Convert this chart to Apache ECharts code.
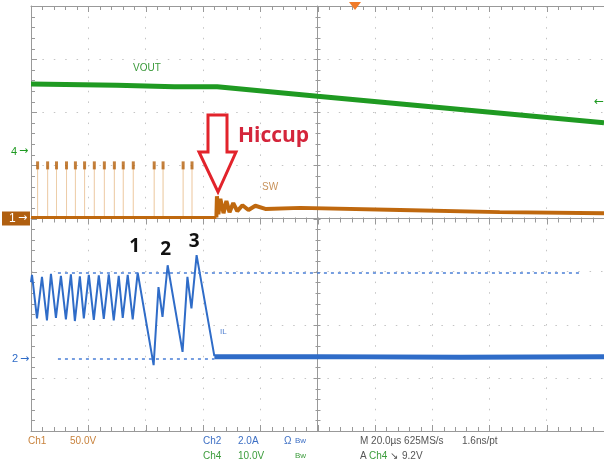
<!DOCTYPE html>
<html>
<head>
<meta charset="utf-8">
<script src="https://cdn.jsdelivr.net/npm/echarts@6/dist/echarts.min.js"></script>
<style>
  html, body { margin: 0; padding: 0; background: #fff; }
  #main { width: 604px; height: 464px; }
</style>
</head>
<body>
<div id="main"></div>
<script>
// time in us (20us/div), levels in screen divisions (8 div tall, centre = 0)
const ilT = [0, 0.35, 2.09, 3.83, 5.57, 6.96, 8.70, 10.44, 12.18, 13.92, 15.31, 17.05, 18.44, 20.18, 21.92, 23.66,
  25.40, 27.14, 28.88, 30.62, 32.02, 33.76, 35.50, 37.24, 42.8, 44.5, 45.9, 47.7, 52.9, 54.6, 56.0, 57.8, 64.0]
const ilV = [-1.2, -1.06, -1.88, -1.10, -1.92, -1.04, -1.87, -1.08, -1.90, -1.05, -1.93, -1.09, -1.88, -1.06, -1.91, -1.07,
  -1.89, -1.05, -1.92, -1.08, -1.87, -1.06, -1.90, -1.02, -2.76, -1.29, -1.85, -0.88, -2.51, -1.10, -1.69, -0.69, -2.59]
const ilTailT = [64.0, 100, 150, 200]
const ilTailV = [-2.60, -2.60, -2.61, -2.60]

const voutT = [0, 30, 50, 65, 100, 150, 200]
const voutV = [2.53, 2.51, 2.48, 2.48, 2.30, 2.05, 1.80]

const swBaseT = [0, 64.7]
const swBaseV = [0.02, 0.02]
const swPulseT = [2.3, 5.8, 8.9, 12.4, 15.5, 18.7, 22.1, 25.6, 29.1, 32.2, 35.7, 43.0, 46.1, 53.1, 56.2]
const swPulseTop = 1.0
const swPostT = [64.7, 64.9, 65.4, 66.1, 67.2, 68.2, 69.3, 70.6, 72.0, 73.8, 75.9, 78.3, 81.8, 94.0, 128.8, 163.6, 200]
const swPostV = [0.02, 0.42, 0.08, 0.37, 0.10, 0.33, 0.12, 0.29, 0.14, 0.25, 0.16, 0.24, 0.18, 0.20, 0.16, 0.12, 0.10]

// channel ground markers, trigger level and cursors (divisions)
const ch1Ref = 0
const ch4Ref = 1.26
const ch2Ref = -2.64
const trigLevel = 2.19
const cursorHi = -1.03
const cursorLo = -2.64

const peakLabels = ['1', '2', '3']
const peakLabelT = [36.2, 47.0, 57.0]
const peakLabelV = [-0.52, -0.58, -0.44]

const green = '#1f9a22'
const orange = '#bf680e'
const blue = '#2f6cc8'
const gridGray = '#c4c4c4'
const axisGray = '#999999'

const zip = (a, b) => a.map((v, i) => [v, b[i]])

const pulseLines = []
swPulseT.forEach(t => {
  pulseLines.push([t, swBaseV[0]], [t, swPulseTop], [t, swBaseV[0]])
})

// graticule ticks: every 0.2 division on both scales (kind 0 = time, kind 1 = level)
const tickItems = []
for (let k = 0; k <= 50; k++) tickItems.push([0, k * 4])
for (let k = 0; k <= 40; k++) tickItems.push([1, -4 + k * 0.2])

const chart = echarts.init(document.getElementById('main'), null, { renderer: 'canvas' })

const plainAxis = (min, max, interval, position, lineShow, onZero, extra) => Object.assign({
  type: 'value', min: min, max: max, interval: interval, position: position,
  axisLabel: { show: false },
  axisLine: { show: lineShow, onZero: onZero, lineStyle: { color: axisGray } },
  axisTick: { show: false },
  splitLine: { show: false }
}, extra || {})

function renderTick(params, api) {
  const cs = params.coordSys
  const kind = api.value(0)
  const val = api.value(1)
  const major = Math.abs(val / (kind === 0 ? 20 : 1) - Math.round(val / (kind === 0 ? 20 : 1))) < 1e-6
  const len = major ? 6 : 4
  const style = { stroke: axisGray, lineWidth: 1 }
  const seg = (x1, y1, x2, y2) => ({ type: 'line', shape: { x1: x1, y1: y1, x2: x2, y2: y2 }, style: style })
  if (kind === 0) {
    const x = Math.round(api.coord([val, 0])[0]) + 0.5
    const cy = Math.round(api.coord([0, 0])[1]) + 0.5
    return {
      type: 'group', children: [
        seg(x, cs.y, x, cs.y + len),
        seg(x, cs.y + cs.height - len, x, cs.y + cs.height),
        seg(x, cy - 2, x, cy + len - 1)
      ]
    }
  }
  const y = Math.round(api.coord([0, val])[1]) + 0.5
  const cx = Math.round(api.coord([100, 0])[0]) + 0.5
  return {
    type: 'group', children: [
      seg(cs.x, y, cs.x + len, y),
      seg(cx - len + 1, y, cx + 2, y)
    ]
  }
}

chart.setOption({
  animation: false,
  grid: { left: 31, top: 6, width: 575, height: 425, containLabel: false },
  xAxis: [
    plainAxis(0, 200, 20, 'bottom', true, false, {
      splitLine: { show: true, lineStyle: { color: gridGray, type: [1.5, 9.1], width: 1 } }
    }),
    plainAxis(0, 200, 20, 'top', true, false),
    plainAxis(-100, 100, 20, 'top', true, true)
  ],
  yAxis: [
    plainAxis(-4, 4, 1, 'left', true, false, {
      splitLine: { show: true, lineStyle: { color: gridGray, type: [1.5, 9.9], width: 1 } }
    }),
    plainAxis(-4, 4, 1, 'left', true, true, {
      axisLine: { show: true, onZero: true, onZeroAxisIndex: 2, lineStyle: { color: axisGray } }
    })
  ],
  series: [
    {
      name: 'ticks', type: 'custom', data: tickItems, renderItem: renderTick,
      silent: true, clip: false, z: 1
    },
    {
      name: 'SW pulses', type: 'line', data: pulseLines, symbol: 'none',
      lineStyle: { color: 'rgba(230,185,130,0.45)', width: 1 }, z: 2
    },
    {
      name: 'SW pulse tops', type: 'scatter', data: swPulseT.map(t => [t, swPulseTop]),
      symbol: 'rect', symbolSize: [3, 8], itemStyle: { color: '#b4600c' }, z: 3
    },
    {
      name: 'SW', type: 'line', data: zip(swBaseT, swBaseV), symbol: 'none',
      lineStyle: { color: orange, width: 3 }, z: 3
    },
    {
      name: 'SW after', type: 'line', data: zip(swPostT, swPostV), symbol: 'none',
      lineStyle: { color: orange, width: 4 }, z: 3
    },
    {
      name: 'VOUT', type: 'line', data: zip(voutT, voutV), symbol: 'none',
      lineStyle: { color: green, width: 5 }, z: 3
    },
    {
      name: 'IL', type: 'line', data: zip(ilT, ilV), symbol: 'none',
      lineStyle: { color: blue, width: 2 }, z: 4,
      markLine: {
        silent: true, symbol: 'none', label: { show: false },
        lineStyle: { color: '#4a7fd6', type: [3, 4], width: 1.5 },
        data: [
          [{ coord: [9.4, cursorHi] }, { coord: [192, cursorHi] }],
          [{ coord: [9.4, cursorLo] }, { coord: [64, cursorLo] }]
        ]
      }
    },
    {
      name: 'IL tail', type: 'line', data: zip(ilTailT, ilTailV), symbol: 'none',
      lineStyle: { color: blue, width: 5 }, z: 4
    }
  ]
})

const px = (t, v) => chart.convertToPixel({ xAxisIndex: 0, yAxisIndex: 0 }, [t, v])

const g = []
const txt = (x, y, text, font, fill, align) => g.push({
  type: 'text', x: x, y: y, z: 20,
  style: { text: text, font: font, fill: fill, align: align || 'left', verticalAlign: 'middle' }
})

// channel ground markers on the left
const y1 = px(0, ch1Ref)[1]
g.push({ type: 'rect', shape: { x: 2, y: y1 - 7, width: 28, height: 14 }, style: { fill: '#b05f10' }, z: 20 })
txt(9, y1, '1', '12px "Liberation Sans"', '#fff')
txt(18, y1, '→', '11px "DejaVu Sans"', '#fff')
const y4 = px(0, ch4Ref)[1]
txt(11, y4, '4', '11px "Liberation Sans"', green)
txt(19, y4, '→', '11px "DejaVu Sans"', green)
const y2 = px(0, ch2Ref)[1]
txt(12, y2, '2', '11px "Liberation Sans"', blue)
txt(20, y2, '→', '11px "DejaVu Sans"', blue)

// trigger level (right) and trigger position (top)
const yt = px(200, trigLevel)[1]
txt(604, yt, '←', '12px "DejaVu Sans"', green, 'right')
g.push({ type: 'polygon', shape: { points: [[349, 2], [361, 2], [355, 10]] }, style: { fill: '#f07a28' }, z: 20 })

// trace labels
txt(133, 68, 'VOUT', '10px "Liberation Sans"', '#3a9a3a')
txt(262, 187, 'SW', '10px "Liberation Sans"', '#c8925a')
txt(220, 332, 'IL', '8px "Liberation Sans"', '#4f7fd0')

peakLabels.forEach((s, i) => {
  const p = px(peakLabelT[i], peakLabelV[i])
  txt(p[0], p[1], s, 'bold 19px "Open Sans"', '#111', 'center')
})

// hiccup arrow
g.push({
  type: 'polygon', z: 20,
  shape: { points: [[208, 115], [227, 115], [227, 152], [236, 152], [218, 192], [199, 152], [208, 152]] },
  style: { fill: '#fff', stroke: '#e2232b', lineWidth: 3 }
})
txt(238, 136, 'Hiccup', 'bold 21px "Open Sans"', '#d4253b')

// scope readout
const f = '10px "Liberation Sans"'
txt(28, 441, 'Ch1', f, '#c8823c')
txt(70, 441, '50.0V', f, '#c8823c')
txt(203, 441, 'Ch2', f, '#3d6fc4')
txt(238, 441, '2.0A', f, '#3d6fc4')
txt(284, 441, 'Ω', f, '#3d6fc4')
txt(295, 441, 'Bw', '8px "Liberation Sans"', '#3d6fc4')
txt(203, 456, 'Ch4', f, '#3c9c3c')
txt(238, 456, '10.0V', f, '#3c9c3c')
txt(295, 456, 'Bw', '8px "Liberation Sans"', '#3c9c3c')
txt(360, 441, 'M 20.0µs 625MS/s', f, '#555')
txt(462, 441, '1.6ns/pt', f, '#555')
txt(360, 456, 'A', f, '#555')
txt(369, 456, 'Ch4', f, '#3c9c3c')
txt(390, 456, '↘', f, '#555')
txt(402, 456, '9.2V', f, '#555')

chart.setOption({ graphic: g })
</script>
</body>
</html>
